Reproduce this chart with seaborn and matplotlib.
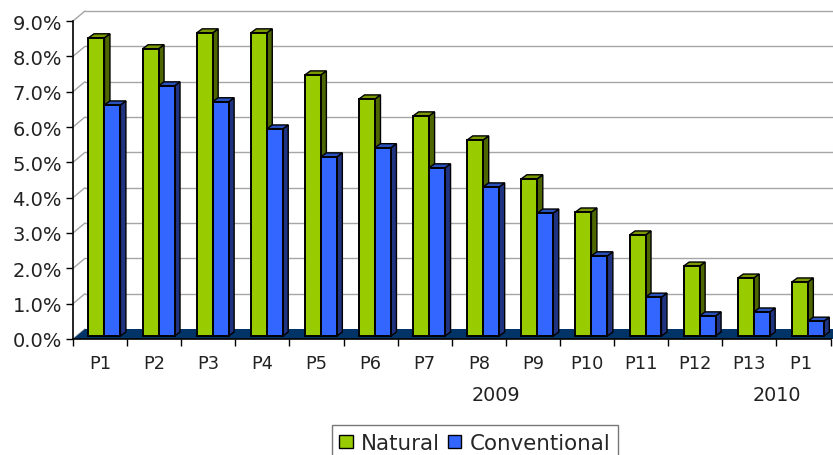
import matplotlib
matplotlib.use('Agg')
import matplotlib.pyplot as plt
from matplotlib.patches import Polygon
import pandas as pd
import seaborn as sns

# values (percent)
periods = ['P1', 'P2', 'P3', 'P4', 'P5', 'P6', 'P7', 'P8', 'P9', 'P10', 'P11', 'P12', 'P13', 'P1 ']
natural = [8.44, 8.13, 8.58, 8.58, 7.39, 6.71, 6.23, 5.55, 4.45, 3.51, 2.86, 1.98, 1.64, 1.53]
conventional = [6.54, 7.08, 6.63, 5.86, 5.07, 5.33, 4.76, 4.22, 3.48, 2.27, 1.10, 0.57, 0.68, 0.42]
yticks = [0, 1, 2, 3, 4, 5, 6, 7, 8, 9]

W, H = 833, 456
LEFT, RIGHT, BOTTOM, TOP = 73, 830.5, 340, 22
px_x = (RIGHT - LEFT) / len(periods)
px_y = (BOTTOM - TOP) / 9
# fake 3d offsets, in data units
wall_dx, wall_dy = 12 / px_x, 10 / px_y
bar_dx, bar_dy = 5.5 / px_x, 4 / px_y
shift_x, shift_y = 4.4 / px_x, 3 / px_y
x_end = len(periods) - 0.5 + 2.5 / px_x  # wall and floor run on to the picture edge

sns.set_style('white')
plt.rcParams['font.family'] = ['DejaVu Sans']

df = pd.DataFrame({'period': periods * 2,
                   'value': natural + conventional,
                   'type': ['Natural'] * len(periods) + ['Conventional'] * len(periods)})

fig = plt.figure(figsize=(W / 100, H / 100), dpi=100)
ax = fig.add_axes([LEFT / W, 1 - BOTTOM / H, (RIGHT - LEFT) / W, (BOTTOM - TOP) / H])
ax.patch.set_alpha(0)

palette = {'Natural': '#99cc00', 'Conventional': '#3366ff'}
sns.barplot(data=df, x='period', y='value', hue='type', palette=palette, width=0.59, gap=0,
            edgecolor='black', linewidth=1.4, saturation=1, ax=ax, zorder=5)
ax.set_xlim(-0.5, len(periods) - 0.5)
ax.set_ylim(0, 9)
ax.set_xlabel('')
ax.set_ylabel('')

# back wall grid and the diagonals from the ticks
for v in yticks:
    ax.plot([-0.5, -0.5 + wall_dx], [v, v + wall_dy], color='#a6a6a6', lw=1, clip_on=False, zorder=1)
    if v > 0:
        ax.plot([-0.5 + wall_dx, x_end], [v + wall_dy] * 2, color='#a6a6a6', lw=1,
                clip_on=False, zorder=1)
# floor
ax.add_patch(Polygon([(-0.5, 0), (-0.5 + wall_dx, wall_dy), (x_end, wall_dy), (x_end, 0)],
                     facecolor='#003366', edgecolor='none', clip_on=False, zorder=2))

# depth faces for each bar
side_cols = ['#4d6600', '#1f3380']
top_cols = ['#7a9900', '#2a52be']
for k, cont in enumerate(ax.containers):
    for p in cont:
        p.set_x(p.get_x() + shift_x)
        p.set_y(shift_y)
        p.set_clip_on(False)
        p.set_zorder(5 + 2 * k)
        x0, x1 = p.get_x(), p.get_x() + p.get_width()
        y0, y1 = shift_y, shift_y + p.get_height()
        ax.add_patch(Polygon([(x1, y0), (x1 + bar_dx, y0 + bar_dy), (x1 + bar_dx, y1 + bar_dy), (x1, y1)],
                             facecolor=side_cols[k], edgecolor='black', lw=1, clip_on=False, zorder=4 + 2 * k))
        ax.add_patch(Polygon([(x0, y1), (x0 + bar_dx, y1 + bar_dy), (x1 + bar_dx, y1 + bar_dy), (x1, y1)],
                             facecolor=top_cols[k], edgecolor='black', lw=1, clip_on=False, zorder=4 + 2 * k))

sns.despine(ax=ax)
for s in ['left', 'bottom']:
    ax.spines[s].set_color('black')
    ax.spines[s].set_linewidth(1.2)
    ax.spines[s].set_zorder(3)

ax.set_yticks(yticks)
ax.set_yticklabels(['%.1f%%' % v for v in yticks], fontsize=14, color='#222222')
ax.tick_params(axis='y', length=5, width=1, left=True, pad=3, color='black')
ax.set_xticks(range(len(periods)))
ax.set_xticklabels(periods, fontsize=12.8, color='#222222')
ax.set_xticks([i - 0.5 for i in range(len(periods) + 1)], minor=True)
ax.tick_params(axis='x', which='major', length=0, pad=11)
ax.tick_params(axis='x', which='minor', length=5, width=1, bottom=True, color='black')

# year labels under the periods
ax.text(7.32, -1.58, '2009', ha='center', va='center', fontsize=13.8, color='#222222')
ax.text(12.51, -1.58, '2010', ha='center', va='center', fontsize=13.8, color='#222222')

sns.move_legend(ax, 'lower left', bbox_to_anchor=(332 / W, -0.012), bbox_transform=fig.transFigure,
                ncol=2, title=None, fontsize=15.4, frameon=True, fancybox=False, framealpha=1,
                edgecolor='#777777', handlelength=0.62, handleheight=0.62, handletextpad=0.4,
                columnspacing=0.35, borderpad=0.35, borderaxespad=0)
ax.get_legend().get_frame().set_linewidth(1)
for h in ax.get_legend().legend_handles:
    h.set_edgecolor('black')
    h.set_linewidth(1)

fig.savefig('out.png', dpi=100)
